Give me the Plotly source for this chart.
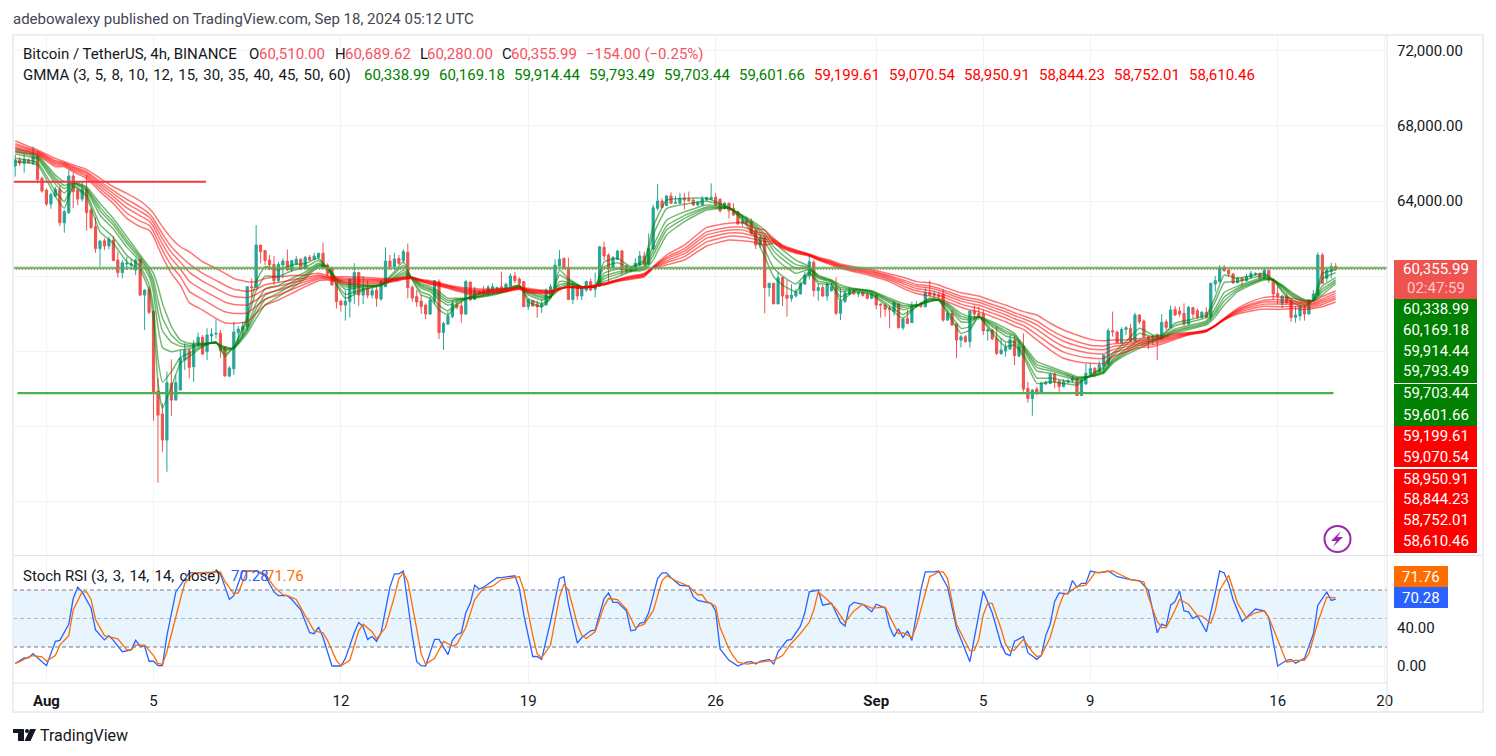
import pandas as pd
import plotly.graph_objects as go
from plotly.subplots import make_subplots

# 4h candles, Jul 30 20:00 to Sep 18 04:00
bar_times = pd.date_range("2024-07-30 20:00", periods=297, freq="4h")

opens = [65870,66190,66010,66190,66010,66360,65210,64580,63840,64260,64620,62840,63380,65330,64580,64100,64620,63520,62630,61460,61880,61600,61920,60850,60180,60640,60590,60320,60890,58980,59290,58100,53860,52640,51250,54270,53380,53920,55520,56020,55160,56320,56730,55960,56800,56900,56940,56230,54660,55050,56980,57120,57300,59430,59390,61650,61350,60850,60620,59750,60590,60800,60320,60640,60890,60410,61000,60890,61000,61210,60590,60410,59610,58660,58450,58630,
59070,60180,58980,59340,58980,59250,58770,59430,60800,60500,60940,60820,61260,59390,58900,58660,58450,57970,58680,59700,56980,57440,57830,58450,58400,57970,59680,58750,59070,59200,59040,59250,59320,59430,59290,59470,60000,59840,59700,58360,58680,58490,58360,58470,58900,59390,60530,60940,60460,58750,59460,58930,59250,59700,59290,59460,61530,61120,60460,60890,61330,60530,60280,60320,60590,61070,60640,61440,63610,64000,63750,64270,63880,63880,
64140,64090,64050,63790,63790,64050,64090,64200,64090,63610,63880,63610,63430,62810,62950,62900,62420,61650,62040,59380,59610,58510,59910,58980,58810,58930,59040,59570,60000,60730,59220,59390,58930,59220,59380,58010,58630,59040,59220,59040,59110,59020,58810,58980,58500,58450,58270,58100,58510,57240,57740,57510,58360,58540,58360,59110,58970,58980,59040,57650,58010,57440,56580,56760,56500,58130,58010,57970,57070,57120,56670,55870,56000,56100,56580,55730,
56230,54010,53470,53970,53740,54240,54270,54770,54400,54100,54340,54420,54540,53620,54240,54770,55070,54900,55200,55310,57080,57010,56440,57150,57210,56550,57920,57600,56760,56730,56850,56640,57560,57260,58220,58130,58010,57440,58310,58150,57800,58060,57800,59570,59700,60460,60320,60110,59640,59880,59750,59930,60090,60140,59880,60280,59820,59070,58540,58900,58670,57790,57870,58240,57970,58680,58990,61120,59880,60230,60510]
highs = [66450,66360,66500,66270,66900,66540,65300,64670,64440,64760,64850,63520,65650,65510,64620,65030,65380,63610,63130,61920,62010,62100,62130,61300,60850,61030,60890,60940,60940,59290,59430,58190,54540,53200,54900,55550,54720,56050,56410,56140,56580,56980,56850,57210,57210,57690,57120,56260,55200,57560,57330,57560,59430,59870,62720,61650,61390,61120,61060,60760,60940,61420,60820,61060,60940,61060,61120,61240,61240,61790,60670,60500,59640,58720,59250,59870,
60680,60230,60000,59780,59430,59430,59780,61530,61120,61240,61120,61420,61740,59520,59250,58990,58540,58900,59790,59820,57560,58100,58680,58680,58630,59790,59680,59430,59220,59470,59520,59610,59430,60230,59640,60140,60230,59930,59700,58750,58720,58680,58720,59340,59570,60890,61380,60980,60980,59700,59520,59430,59750,59870,60180,61600,61830,61210,61060,61390,61390,60590,60530,60940,61330,61300,62270,63790,64900,64140,64320,64460,64270,64440,
64440,64500,64140,64000,64270,64230,64940,64440,64140,63960,63910,63880,63480,63200,63160,63070,62540,62190,62100,59640,59640,60180,59960,59780,59560,59290,59700,60230,61120,60850,59610,59520,59640,59640,59930,59340,59220,59390,59290,59160,59160,59110,59110,59040,58540,58540,58400,58680,58540,57740,58190,58630,58660,58630,59400,59750,59220,59160,59290,58190,58190,57510,56850,56850,58130,58450,58360,58190,57210,57150,57330,56670,56410,56850,56760,56580,
56940,54360,53970,54100,54360,54420,54840,54840,54450,54490,54490,54670,54590,54490,55300,55340,55160,55480,55790,57210,58100,57080,57260,57330,57440,58040,57970,57690,56800,56850,56940,57970,57690,58420,58400,58360,58540,58400,58360,58270,58150,58330,59640,60000,60590,60590,60360,60140,59960,59930,60110,60280,60200,60180,60410,60360,59880,59610,58990,59070,58810,58400,58450,58450,58750,59250,61260,61240,60410,60710,60690]
lows = [65300,65870,65510,66010,65920,64940,64440,63730,63590,64230,62660,62310,63310,63610,63780,63960,62420,62500,61240,60500,61380,61420,60820,59930,59870,60320,60320,60050,58930,57120,57970,52280,48970,50630,49560,52530,53380,53920,54980,54540,54360,56230,55780,55520,56410,56670,55640,54660,54590,54720,56410,56760,57080,58900,59360,60670,60590,60320,59520,59640,59870,60280,60230,60590,60320,60350,60820,60850,60890,60410,60000,59520,58270,58100,57620,57790,
58500,58400,58500,58810,58810,58360,58680,59430,60320,60320,60590,60680,58810,58630,58360,57970,57700,57920,58540,56640,56050,57380,57740,58220,57510,57920,58680,58720,59040,58980,58980,59070,59250,59110,59220,59390,59610,59520,58360,58190,58360,57780,58040,58400,58860,59290,60500,60350,58720,58500,58720,58720,59160,59220,58860,59430,60850,59700,60410,60850,60050,60140,60230,60280,60500,60590,60590,61380,63480,63610,63730,63840,63880,63840,
63550,63960,63730,63730,63750,64020,64050,63730,63380,63550,63070,63200,62750,62670,62720,62190,61440,61480,58010,58900,58510,58510,58400,57830,58630,58860,59020,59520,59820,58900,58680,58900,58680,59160,57920,57650,58580,58980,59020,58860,58900,58750,58750,58220,57780,57830,57210,57880,57210,57120,57440,57510,58330,58330,58330,58930,58810,58720,57560,57600,57350,55610,56190,56440,56180,57650,57650,56850,56550,56580,55790,55790,55700,56050,55250,55660,
53830,53240,52550,53650,53710,54190,54240,54010,53830,54060,54270,54310,53620,53620,54200,54720,54590,54840,54810,55250,56760,56410,56370,56850,56500,56500,57440,56670,56090,56320,55520,56620,57120,57230,57870,57830,57330,57390,57740,57710,57740,57740,57620,59160,59640,60230,59960,59570,59610,59470,59700,59880,60020,59820,59820,59640,58720,58510,58280,58510,57560,57510,57620,57620,57970,58630,58900,59570,59700,59880,60280]
closes = [66190,66010,66220,66040,66360,65150,64530,63840,64350,64620,62840,63430,65330,64500,64100,64620,63380,62580,61460,61860,61600,61950,60820,60180,60710,60680,60640,60850,58980,59250,58060,53790,52580,51250,54310,53380,54310,55610,56020,55130,56370,56730,55840,56850,56900,56940,56020,54660,55090,57010,57170,57300,59430,59380,61650,61300,60820,60590,59750,60620,60800,60320,60820,60890,60370,61000,60850,61060,61210,60460,60100,59520,58630,58450,58660,59820,
60180,58980,59340,58980,59220,58810,59700,60800,60500,60910,60680,61300,59380,58820,58610,58360,57970,58720,59750,56980,57470,57860,58510,58330,57970,59700,58720,59220,59160,59070,59390,59430,59390,59250,59560,60000,59750,59610,58360,58720,58400,58360,58500,59250,59430,60580,60900,60410,58750,59460,58930,59340,59700,59250,59460,61560,61070,60410,60980,61330,60320,60280,60410,60680,61070,60620,61470,63640,64000,63660,64270,63880,63930,64140,
64050,64020,63790,63930,64110,64180,64200,63790,63480,63880,63480,63250,62770,62950,62840,62270,61650,62040,59380,59610,58510,59910,58930,58810,58980,59160,59610,60050,60760,59220,59380,58930,59570,59430,58010,58660,59110,59220,59040,59110,58970,58810,59040,58450,58450,58220,58220,58580,57240,57700,57470,58400,58490,58360,59110,58980,59040,58900,57650,58010,57380,56580,56760,56500,58130,57970,57880,57070,57120,56640,55870,56050,56180,56620,55750,56230,
53970,53470,53920,53740,54270,54310,54770,54360,54100,54360,54420,54540,53620,54450,54810,55070,54840,55250,55790,57080,57030,56440,57150,57240,56550,57920,57560,56760,56680,56800,56730,57530,57260,58190,57920,57970,57440,58330,57970,57800,58060,57800,59610,59750,60410,60280,60110,59640,59880,59750,59960,60140,60140,59910,60320,59790,59040,58930,58930,58580,57790,57920,58360,57970,58720,59040,61120,59610,60320,60510,60355.99]

# GMMA values read at these bar numbers
gmma_bars = [0,5,9,11,13,16,19,22,25,28,30,31,32,33,35,37,39,42,45,47,49,52,54,56,59,62,65,68,70,72,74,
78,82,85,87,89,91,93,95,97,99,102,106,110,113,115,118,120,122,124,127,130,132,135,138,141,143,146,150,
155,160,163,166,168,170,172,175,178,180,183,185,188,192,196,199,202,205,207,209,212,214,216,219,222,224,
226,229,232,235,238,241,244,246,249,252,255,257,260,263,267,269,271,274,277,280,282,284,286,289,291,293,296]

short_1 = [66100,65920,64230,63610,64760,64230,62360,61740,60760,60320,59250,57650,54270,52940,54100,55340,55700,56230,56500,55700,56230,57830,59700,60500,60320,60590,60670,60940,60410,59520,58810,
59250,59520,60230,60760,59790,58990,58810,58190,57920,58450,58900,59220,59340,59520,58630,58360,58810,60320,59870,59430,59430,60760,60940,60500,60850,62630,64050,64140,
64140,63660,62990,62010,61030,59960,59520,59160,60140,59610,59520,58680,59160,58990,58270,57740,58360,58810,58720,58010,56940,57120,57830,56940,56230,56320,
55700,54270,54360,54270,54190,54720,55160,55870,56500,57210,56850,56850,57480,57650,57920,58900,60050,59880,60000,60140,59790,59160,58630,58360,58720,60140,60338.99]
short_2 = [66280,66050,64520,63970,64830,64360,62740,62070,61100,60520,59560,58270,55560,54340,54900,55650,55880,56280,56480,55830,56210,57610,59210,59990,59970,60280,60470,60830,60430,59610,59020,
59320,59520,60120,60560,59830,59150,58970,58430,58140,58540,58880,59150,59300,59500,58790,58520,58830,60050,59780,59430,59430,60490,60700,60430,60720,62190,63590,63830,
63990,63650,63050,62210,61390,60430,59990,59580,60230,59720,59590,58890,59210,59050,58410,57940,58380,58770,58720,58140,57210,57300,57830,57100,56480,56480,
55860,54560,54560,54430,54300,54700,55070,55740,56320,56940,56760,56810,57350,57530,57790,58630,59650,59700,59880,60050,59790,59250,58760,58460,58710,59850,60169.18]
short_3 = [66510,66230,64900,64430,64920,64540,63240,62510,61540,60780,59980,59090,57260,56190,55960,56060,56110,56330,56450,56010,56180,57310,58560,59310,59500,59870,60210,60690,60460,59720,59290,
59410,59520,59970,60300,59870,59350,59170,58750,58440,58660,58850,59050,59240,59470,58990,58730,58860,59700,59670,59430,59430,60150,60370,60340,60540,61600,62970,63420,
63780,63630,63140,62470,61850,61050,60600,60140,60350,59870,59680,59170,59260,59120,58580,58200,58410,58710,58720,58320,57560,57530,57830,57300,56800,56680,
56060,54940,54820,54640,54450,54670,54960,55560,56090,56590,56650,56750,57170,57360,57610,58280,59120,59460,59720,59940,59790,59370,58940,58590,58700,59470,59914.44]
short_4 = [66630,66310,65080,64660,64960,64620,63480,62720,61750,60910,60180,59490,58090,57080,56470,56260,56230,56360,56430,56090,56160,57170,58250,58980,59270,59670,60080,60610,60480,59780,59420,
59450,59520,59900,60170,59890,59450,59270,58910,58580,58720,58830,59010,59210,59450,59090,58830,58880,59530,59610,59430,59430,59980,60210,60300,60460,61310,62670,63220,
63680,63620,63180,62600,62080,61340,60900,60410,60400,59940,59720,59300,59290,59160,58670,58330,58430,58680,58720,58400,57730,57650,57830,57400,56960,56780,
56160,55130,54950,54740,54520,54650,54900,55480,55970,56420,56590,56720,57080,57280,57530,58110,58870,59350,59640,59880,59790,59430,59020,58650,58690,59290,59793.49]
short_5 = [66710,66380,65220,64830,64990,64690,63660,62880,61910,61010,60330,59790,58710,57760,56850,56410,56310,56380,56420,56160,56150,57070,58010,58740,59100,59520,59980,60560,60490,59820,59520,
59480,59520,59850,60070,59910,59520,59340,59020,58690,58760,58820,58970,59190,59440,59160,58900,58890,59400,59570,59430,59430,59850,60100,60270,60390,61100,62450,63070,
63610,63620,63210,62700,62250,61570,61130,60610,60450,59990,59750,59400,59310,59190,58730,58430,58440,58660,58720,58470,57860,57730,57830,57470,57070,56850,
56230,55270,55050,54810,54570,54640,54860,55410,55890,56290,56550,56700,57020,57220,57460,57980,58670,59260,59590,59840,59790,59470,59090,58700,58690,59150,59703.44]
short_6 = [66810,66450,65380,65030,65030,64760,63870,63070,62100,61120,60500,60140,59430,58540,57300,56580,56410,56410,56410,56230,56140,56940,57740,58450,58900,59340,59870,60500,60500,59870,59640,
59520,59520,59790,59960,59930,59610,59430,59160,58810,58810,58810,58930,59160,59430,59250,58990,58900,59250,59520,59430,59430,59700,59960,60230,60320,60850,62190,62900,
63520,63610,63250,62810,62450,61830,61390,60850,60500,60050,59790,59520,59340,59220,58810,58540,58450,58630,58720,58540,58010,57830,57830,57560,57210,56940,
56320,55430,55160,54900,54630,54630,54810,55340,55790,56140,56500,56670,56940,57150,57390,57830,58450,59160,59520,59790,59790,59520,59160,58750,58680,58990,59601.66]

long_1 = [66630,66450,65830,65830,65560,65210,64500,63870,63070,62630,62450,62100,61560,61030,60140,59520,58580,58180,57740,57510,57470,57560,58010,58450,58720,59070,59430,59750,59790,59700,59570,
59570,59610,59700,59820,59870,59700,59550,59470,59340,59200,59020,59070,59160,59290,59110,59070,59070,59290,59390,59340,59430,59520,59700,59820,59960,60410,60590,60850,
61600,61920,61880,61780,61650,61740,61470,61210,61070,60850,60580,60410,60230,60000,59700,59340,59070,58930,58810,58630,58330,58190,58100,57830,57560,57330,
57150,56590,56050,55610,55430,55340,55340,55700,55960,56190,56230,56370,56620,56850,57030,57330,57650,57970,58130,58240,58220,58220,58270,58220,58270,58360,58610.46]
long_2 = [66760,66510,65930,65890,65640,65320,64660,64070,63360,62930,62710,62370,61870,61380,60550,59970,59180,58750,58330,58090,58000,58030,58380,58760,58990,59280,59570,59840,59840,59760,59660,
59650,59670,59740,59840,59880,59730,59590,59510,59380,59250,59090,59120,59200,59310,59160,59110,59100,59300,59400,59360,59450,59540,59730,59860,60000,60430,60710,61030,
61820,62120,62090,61950,61830,61800,61510,61250,61090,60880,60630,60460,60290,60080,59790,59470,59210,59090,58970,58790,58500,58370,58280,58020,57760,57540,
57360,56880,56360,55940,55740,55620,55610,55900,56100,56300,56340,56460,56690,56880,57050,57340,57670,58040,58240,58380,58370,58360,58390,58320,58350,58480,58752.01]
long_3 = [66870,66560,66010,65940,65710,65410,64800,64240,63630,63210,62940,62620,62160,61700,60930,60380,59720,59260,58860,58610,58480,58450,58720,59050,59240,59470,59690,59910,59890,59810,59730,
59720,59720,59770,59870,59900,59750,59630,59540,59420,59300,59150,59160,59240,59330,59210,59150,59130,59310,59410,59380,59470,59560,59750,59900,60040,60450,60810,61190,
62020,62290,62280,62100,61990,61850,61550,61290,61110,60910,60680,60510,60340,60150,59870,59590,59330,59230,59110,58930,58660,58540,58450,58190,57930,57720,
57550,57150,56650,56240,56030,55880,55850,56070,56220,56390,56440,56530,56750,56900,57070,57350,57690,58100,58340,58500,58510,58490,58500,58410,58420,58590,58844.23]
long_4 = [66970,66610,66090,65990,65780,65500,64930,64400,63870,63450,63150,62840,62410,61990,61260,60740,60210,59730,59340,59090,58910,58840,59020,59300,59460,59640,59800,59980,59930,59860,59800,
59790,59770,59800,59890,59910,59770,59670,59570,59450,59340,59210,59200,59270,59350,59250,59180,59160,59320,59410,59390,59480,59570,59770,59930,60070,60460,60910,61330,
62190,62450,62460,62240,62130,61900,61580,61320,61130,60940,60720,60550,60390,60210,59950,59690,59450,59360,59240,59060,58800,58690,58600,58340,58090,57890,
57720,57390,56910,56520,56280,56110,56070,56230,56340,56480,56530,56600,56810,56930,57080,57360,57700,58150,58430,58610,58630,58600,58590,58500,58490,58680,58950.91]
long_5 = [67060,66650,66160,66040,65830,65570,65040,64550,64090,63670,63330,63040,62640,62250,61560,61070,60650,60140,59770,59510,59290,59180,59290,59530,59660,59790,59900,60050,59960,59900,59870,
59840,59810,59830,59900,59920,59790,59700,59600,59480,59370,59260,59240,59300,59370,59280,59210,59180,59330,59420,59410,59500,59590,59790,59960,60100,60480,61000,61460,
62350,62600,62610,62360,62260,61950,61610,61350,61150,60960,60760,60580,60440,60270,60010,59790,59550,59470,59350,59170,58920,58820,58730,58480,58240,58040,
57870,57600,57140,56760,56510,56310,56260,56380,56440,56550,56610,56670,56860,56950,57100,57370,57720,58200,58510,58710,58740,58710,58680,58570,58540,58770,59070.54]
long_6 = [67200,66720,66270,66100,65920,65690,65210,64760,64410,64000,63610,63340,62980,62630,62010,61560,61300,60760,60410,60140,59870,59690,59700,59870,59960,60020,60050,60140,60020,59960,59960,
59930,59870,59870,59930,59930,59820,59750,59640,59520,59430,59340,59290,59340,59390,59340,59250,59220,59340,59430,59430,59520,59610,59820,60000,60140,60500,61120,61650,
62590,62810,62840,62540,62450,62010,61650,61390,61170,61000,60820,60640,60500,60350,60110,59930,59700,59640,59520,59340,59110,59020,58930,58680,58450,58270,
58100,57920,57480,57120,56850,56620,56550,56590,56590,56670,56730,56760,56940,56980,57120,57370,57740,58270,58630,58860,58900,58860,58810,58680,58630,58900,59199.61]

# Stoch RSI, read at the turning points
k_bars = [0,2,3,4,5,7,9,10,12,13,14,15,17,18,20,21,22,24,26,27,28,29,30,31,32,33,34,36,39,44,45,46,48,49,51,54,56,58,59,61,62,64,66,67,68,69,71,73,74,76,77,78,79,80,81,82,84,85,86,87,89,90,91,92,94,95,97,98,99,100,101,102,103,104,105,108,109,112,113,114,116,117,118,120,122,123,124,126,127,129,130,132,133,134,135,137,138,139,140,141,142,144,145,146,147,149,151,152,153,
154,156,157,158,160,162,164,165,166,167,169,170,171,173,174,176,177,178,180,181,183,185,186,187,188,190,192,193,195,196,197,198,199,200,201,203,204,206,207,209,211,213,214,217,219,221,222,223,224,226,227,229,230,231,232,233,234,236,237,238,239,240,241,243,245,247,250,252,254,255,256,257,258,259,260,261,262,263,264,265,267,269,270,271,272,273,275,276,278,280,281,283,285,286,287,289,291,292,294,295,296]
k_vals = [2.7,8.6,8.6,13,8.6,0.3,26,27,44,71,83,78,61,38,27.5,32,27,15,17,27,21,21,5,5,0.3,0.3,32,78,98,98,100,97,70,74,100,100,95,78,74,74,70,59,35,34,41,30,0,0,8,35,46,41,28,31,26,35,83,97,97,100,32,4.5,0.3,0,28,28,12,27,33,35,56,66,85,81,83,93,93,95,82,54,10,10,7,47,92,94,65,24,30,37,38,71,77,67,67,58,37,38,45,46,56,92,98,98,93,85,84,73,69,
68,66,58,18,6,0,4,4.5,2,5,7,2,15,27,28,42,56,78,80,64,66,46,42,63,67,65,57,65,61,41,31,39,30,37,27,80,99,99,100,83,40,16,4.5,79,56,23,13,11,26,31,14,7,11,32,44,68,77,76,90,83,87,87,100,98,100,94,91,90,80,58,35,44,42,64,68,79,58,57,50,53,36,77,100,98,87,70,47,51,60,58,51,0,6,7,3,8,34,64,78,69,70.28]
d_bars = [0,1,3,4,6,7,9,10,12,13,15,16,17,18,20,22,23,25,26,27,29,31,32,33,34,37,38,40,44,46,47,49,50,52,54,56,58,60,61,63,65,67,69,70,72,73,75,77,78,80,81,83,85,86,87,88,90,91,92,94,96,98,99,101,103,105,107,109,113,114,116,117,118,120,122,123,124,126,127,128,130,132,133,135,137,139,141,143,145,146,148,151,153,
154,155,157,158,160,161,162,164,166,168,170,172,174,176,178,179,180,182,184,186,188,190,192,195,197,198,199,201,202,204,205,207,208,209,211,214,215,216,217,218,219,221,222,223,224,226,228,229,230,232,234,235,236,238,240,242,246,248,250,253,254,256,257,258,260,261,263,265,266,268,269,270,272,274,276,278,280,281,284,285,287,289,290,292,294,296]
d_vals = [2.7,4.5,9.6,11,9.6,5,11,22,32,59,78,78,70,49,32,30,28.5,17,17,22,22,11,2.7,1.7,15,70,87,98,98.6,99,89,76,77,100,100,97,83.5,75,74,70,53,37,35,27,6,0,6,37,44,36,28.5,40.5,73,92,98,89,39,13,1.7,8,26,21,23,40.5,70,82,84,91,94,80,32,13,8.6,22,73,86,80,44,32,29,36,63,71,70,60,40.5,44,58,90,95,90,84,75,
75,68,63,40.5,18,10,4,2,3.4,4.5,6,11,24,34,46,59,78,70,60,46,58,65,61,62,44,34,35,30,42,77,94,99,99,92,44,16,16.5,28,54,66,66,39,23,15.5,17,28,15,10,11,30,63,75,77,83.5,85,98,100,95.5,91,88.7,73,47,40.5,40.5,59,70,65,53,52.6,45,58,80,95.5,66,51,56,58,51,15,4,6,6,13,46,72.5,71.76]

grid_prices = [48000,52000,56000,60000,64000,68000,72000]
grid_labels = ["","","","","64,000.00","68,000.00","72,000.00"]
date_ticks = ["2024-08-01","2024-08-05","2024-08-12","2024-08-19","2024-08-26","2024-09-01","2024-09-05","2024-09-09","2024-09-16","2024-09-20"]
date_labels = ["<b>Aug</b>","5","12","19","26","<b>Sep</b>","5","9","16","20"]

gmma_names = ["3","5","8","10","12","15","30","35","40","45","50","60"]
gmma_labels = ["60,338.99","60,169.18","59,914.44","59,793.49","59,703.44","59,601.66","59,199.61","59,070.54","58,950.91","58,844.23","58,752.01","58,610.46"]
gmma_label_y = [309,330,351,371,393,414.5,436,457,479,499,520,541]

last_close = 60355.99
resist_level = 60420
support_level = 53750
old_resist_level = 65020

W, H = 1496, 756
L, R, T, B = 13, 1387, 35, 683
FONT = "Roboto"


def px(x):
    return (x - L) / (R - L)


def py(y):
    return 1 - (y - T) / (B - T)


fig = make_subplots(rows=2, cols=1, shared_xaxes=True, vertical_spacing=0.002)

fig.add_trace(go.Candlestick(
    x=bar_times, open=opens, high=highs, low=lows, close=closes,
    increasing=dict(line=dict(color="#26a69a", width=1), fillcolor="#26a69a"),
    decreasing=dict(line=dict(color="#ef5350", width=1), fillcolor="#ef5350"),
    whiskerwidth=0, showlegend=False, hoverinfo="skip"), row=1, col=1)

gmma_x = [bar_times[i] for i in gmma_bars]
for vals in [short_1, short_2, short_3, short_4, short_5, short_6]:
    fig.add_trace(go.Scatter(x=gmma_x, y=vals, mode="lines", hoverinfo="skip",
                             line=dict(color="rgba(0,128,0,0.55)", width=1.5, shape="spline", smoothing=0.4)), row=1, col=1)
for vals in [long_1, long_2, long_3, long_4, long_5, long_6]:
    fig.add_trace(go.Scatter(x=gmma_x, y=vals, mode="lines", hoverinfo="skip",
                             line=dict(color="rgba(255,0,0,0.55)", width=1.5, shape="spline", smoothing=0.4)), row=1, col=1)

# drawn levels
x_start = pd.Timestamp("2024-07-30 18:00")
x_end = pd.Timestamp("2024-09-20 02:00")
fig.add_trace(go.Scatter(x=[x_start, x_end], y=[resist_level] * 2, mode="lines", hoverinfo="skip",
                         line=dict(color="rgba(76,175,80,0.8)", width=2.5)), row=1, col=1)
fig.add_trace(go.Scatter(x=[x_start, x_end], y=[last_close] * 2, mode="lines", hoverinfo="skip",
                         line=dict(color="#ef5350", width=1, dash="1px,2px")), row=1, col=1)
fig.add_trace(go.Scatter(x=[x_start, "2024-08-06 23:00"], y=[old_resist_level] * 2, mode="lines", hoverinfo="skip",
                         line=dict(color="#f23645", width=2)), row=1, col=1)
fig.add_trace(go.Scatter(x=["2024-07-30 22:00", "2024-09-18 02:00"], y=[support_level] * 2, mode="lines", hoverinfo="skip",
                         line=dict(color="#4caf50", width=2.2)), row=1, col=1)

fig.add_trace(go.Scatter(x=[bar_times[i] for i in k_bars], y=k_vals, mode="lines", hoverinfo="skip",
                         line=dict(color="#2962ff", width=1.3)), row=2, col=1)
fig.add_trace(go.Scatter(x=[bar_times[i] for i in d_bars], y=d_vals, mode="lines", hoverinfo="skip",
                         line=dict(color="#ff6d00", width=1.3)), row=2, col=1)

shapes = []


def box(x0, y0, x1, y1, fill, line="rgba(0,0,0,0)", width=0, layer="above"):
    shapes.append(dict(type="rect", xref="paper", yref="paper", x0=px(x0), x1=px(x1), y0=py(y0), y1=py(y1),
                       fillcolor=fill, line=dict(color=line, width=width), layer=layer))


# stoch band and levels
shapes.append(dict(type="rect", xref="paper", yref="y2", x0=0, x1=1, y0=20, y1=80,
                   fillcolor="rgba(33,150,243,0.1)", line=dict(width=0), layer="below"))
for lvl, dash, col in [(80, "4px,3px", "#787b86"), (50, "4px,3px", "rgba(120,123,134,0.5)"), (20, "4px,3px", "#787b86")]:
    shapes.append(dict(type="line", xref="paper", yref="y2", x0=0, x1=1, y0=lvl, y1=lvl,
                       line=dict(color=col, width=1, dash=dash), layer="above"))

# frame
box(13, 35, 1483, 712, "rgba(0,0,0,0)", "#eceef5", 2)
for x0, y0, x1, y1 in [(13, 555.5, 1483, 555.5), (13, 683, 1387, 683), (1387, 35, 1387, 712)]:
    shapes.append(dict(type="line", xref="paper", yref="paper", x0=px(x0), x1=px(x1), y0=py(y0), y1=py(y1),
                       line=dict(color="#e0e3eb", width=1), layer="above"))

# price scale labels
box(1394, 260, 1477, 299, "#ef5350")
box(1394, 299, 1477, 383, "#008000")
box(1394, 384, 1477, 426, "#008000")
box(1394, 426, 1477, 467, "#ff0000")
box(1394, 469, 1477, 553, "#ff0000")
box(1394, 566, 1448, 587, "#ff6d00")
box(1394, 587, 1448, 608, "#2962ff")

# purple lightning badge
shapes.append(dict(type="circle", xref="paper", yref="paper", x0=px(1324.5), x1=px(1350.5), y0=py(526), y1=py(552),
                   line=dict(color="#9c27b0", width=2), fillcolor="white", layer="above"))
bolt = [(1341, 531), (1331, 541), (1336.5, 541), (1333, 547), (1343, 537), (1337.5, 537)]
shapes.append(dict(type="path", xref="paper", yref="paper", fillcolor="#9c27b0", line=dict(width=0), layer="above",
                   path="M " + " L ".join(f"{px(a):.5f},{py(b):.5f}" for a, b in bolt) + " Z"))

# TradingView logo
box(13, 729, 24, 733, "#131722")
box(18, 733, 24, 741, "#131722")
shapes.append(dict(type="circle", xref="paper", yref="paper", x0=px(25), x1=px(29), y0=py(729), y1=py(733),
                   fillcolor="#131722", line=dict(width=0), layer="above"))
logo = [(30, 729), (36, 729), (30.5, 741), (24.5, 741)]
shapes.append(dict(type="path", xref="paper", yref="paper", fillcolor="#131722", line=dict(width=0), layer="above",
                   path="M " + " L ".join(f"{px(a):.5f},{py(b):.5f}" for a, b in logo) + " Z"))

notes = []


def note(x, y, text, color="#131722", size=15, anchor="left"):
    notes.append(dict(xref="paper", yref="paper", x=px(x), y=py(y), text=text, showarrow=False,
                      xanchor=anchor, yanchor="middle", align="left", borderpad=0, borderwidth=0,
                      font=dict(family=FONT, size=size, color=color)))


note(13, 19, "adebowalexy published on TradingView.com, Sep 18, 2024 05:12 UTC", "#434651")
note(40, 735, "TradingView", "#131722", 16)

down_red = "#f7525f"
note(23, 54, "Bitcoin / TetherUS, 4h, BINANCE")
note(249, 54, "O")
note(259, 54, "60,510.00", down_red)
note(335, 54, "H")
note(345, 54, "60,689.62", down_red)
note(420, 54, "L")
note(427, 54, "60,280.00", down_red)
note(502, 54, "C")
note(511, 54, "60,355.99", down_red)
note(586, 54, "−154.00 (−0.25%)", down_red)

# the reference sets wider gaps after commas here
note(23, 75, "GMMA (" + ", \u200a".join(gmma_names) + ")")
for i, lab in enumerate(gmma_labels):
    note(364 + 75 * i, 75, lab, "#008000" if i < 6 else "#ff0000")
    note(1435.5, gmma_label_y[i], lab, "white", 15, "center")

note(1435.5, 269, "60,355.99", "white", 15, "center")
note(1435.5, 288, "02:47:59", "rgba(255,255,255,0.7)", 15, "center")

note(23, 576, "Stoch RSI (3, \u200a3, \u200a14, \u200a14, \u200aclose)")
note(231, 576, "70.28", "#2962ff")
note(266, 576, "71.76", "#ff6d00")
note(1421, 576.5, "71.76", "white", 15, "center")
note(1421, 597.5, "70.28", "white", 15, "center")

fig.update_layout(
    width=W, height=H, margin=dict(l=L, r=W - R, t=T, b=H - B, pad=0),
    paper_bgcolor="white", plot_bgcolor="white", showlegend=False,
    shapes=shapes, annotations=notes, font=dict(family=FONT, size=15, color="#131722"),
)

x_range = [x_start, x_end]
grid = "#f2f3f8"
fig.update_xaxes(range=x_range, rangeslider_visible=False, tickmode="array", tickvals=date_ticks,
                 showgrid=True, gridcolor=grid, gridwidth=1, zeroline=False, showline=False)
fig.update_xaxes(ticktext=date_labels, showticklabels=True, ticks="outside", ticklen=4, tickcolor="rgba(0,0,0,0)",
                 tickfont=dict(family=FONT, size=15, color="#131722"), row=2, col=1)
fig.update_xaxes(showticklabels=False, row=1, col=1)

fig.update_yaxes(domain=[py(555), 1], range=[45120, 72853], side="right", tickmode="array",
                 tickvals=grid_prices, ticktext=grid_labels, showgrid=True, gridcolor=grid, zeroline=False,
                 ticks="outside", ticklen=6, tickcolor="rgba(0,0,0,0)",
                 tickfont=dict(family=FONT, size=15, color="#131722"), row=1, col=1)
fig.update_yaxes(domain=[0, py(556)], range=[-17.9, 115.8], side="right", tickmode="array",
                 tickvals=[0, 40], ticktext=["0.00", "40.00"], showgrid=True, gridcolor=grid, zeroline=False,
                 ticks="outside", ticklen=6, tickcolor="rgba(0,0,0,0)",
                 tickfont=dict(family=FONT, size=15, color="#131722"), row=2, col=1)

fig.write_html("out.html", config={"displayModeBar": False}, post_script="document.body.style.margin='0';")
